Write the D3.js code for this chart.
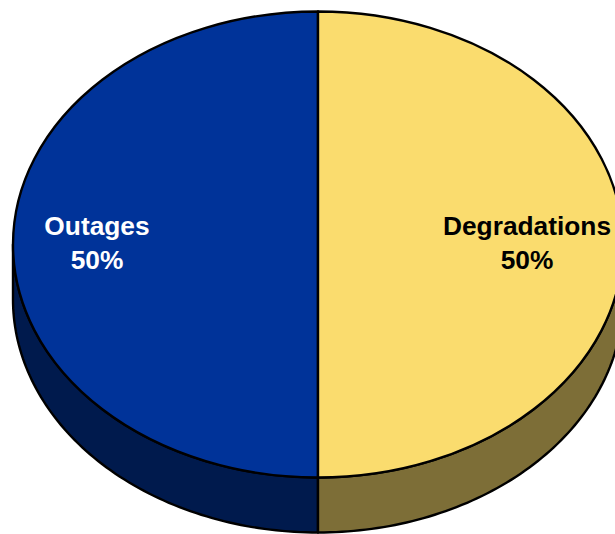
<!DOCTYPE html>
<html>
<head>
<meta charset="utf-8">
<script src="https://cdn.jsdelivr.net/npm/d3@7"></script>
<style>
  html, body { margin: 0; padding: 0; background: #fff; }
  svg { display: block; }
</style>
</head>
<body>
<svg id="chart" width="615" height="534"></svg>
<script>
const categories = ["Outages", "Degradations"];
const values = [50, 50];
const topColors = ["#003399", "#FADC6E"];
const sideColors = ["#001A4D", "#7D6E37"];
const textColors = ["#ffffff", "#000000"];

const W = 615, H = 534;
const cx = 318, cy = 244.5, rx = 305, ry = 233, depth = 55;

const svg = d3.select("#chart");
const data = categories.map((c, i) => ({ name: c, value: values[i], i }));

const pie = d3.pie().sort(null).value(d => d.value)
  .startAngle(Math.PI).endAngle(3 * Math.PI);
const arcs = pie(data);

const px = a => cx + rx * Math.sin(a);
const py = a => cy - ry * Math.cos(a);

// side walls (front half: angles in (pi/2, 3pi/2) modulo 2pi)
const sideG = svg.append("g");
arcs.forEach(d => {
  const TAU = 2 * Math.PI;
  [[Math.PI / 2, 1.5 * Math.PI], [Math.PI / 2 + TAU, 1.5 * Math.PI + TAU]].forEach(([f0, f1]) => {
    const s = Math.max(d.startAngle, f0), e = Math.min(d.endAngle, f1);
    if (e <= s) return;
    const n = 80;
    const pts = [];
    for (let k = 0; k <= n; k++) { const a = s + (e - s) * k / n; pts.push([px(a), py(a)]); }
    for (let k = n; k >= 0; k--) { const a = s + (e - s) * k / n; pts.push([px(a), py(a) + depth]); }
    sideG.append("path")
      .attr("d", d3.line()(pts) + "Z")
      .attr("fill", sideColors[d.data.i])
      .attr("stroke", "#000")
      .attr("stroke-width", 2.4)
      .attr("stroke-linejoin", "round");
  });
});

// top face
const arc = d3.arc().innerRadius(0).outerRadius(rx);
svg.append("g")
  .attr("transform", `translate(${cx},${cy}) scale(1,${ry / rx})`)
  .selectAll("path")
  .data(arcs)
  .join("path")
  .attr("d", arc)
  .attr("fill", d => topColors[d.data.i])
  .attr("stroke", "#000")
  .attr("stroke-width", 2.4)
  .attr("vector-effect", "non-scaling-stroke")
  .attr("stroke-linejoin", "round");

// labels
const labelFrac = 0.705, labelShift = -6;
const lab = svg.append("g")
  .attr("font-family", "Liberation Sans, Arial, sans-serif")
  .attr("font-weight", "bold")
  .attr("font-size", 26.3)
  .attr("text-anchor", "middle");
arcs.forEach(d => {
  const mid = (d.startAngle + d.endAngle) / 2;
  const x = cx + rx * labelFrac * Math.sin(mid) + labelShift;
  const y = cy - ry * labelFrac * Math.cos(mid);
  const pct = Math.round(100 * d.value / d3.sum(values)) + "%";
  const t = lab.append("text").attr("fill", textColors[d.data.i]);
  t.append("tspan").attr("x", x).attr("y", y - 10).text(d.data.name);
  t.append("tspan").attr("x", x).attr("y", y + 24).text(pct);
});
</script>
</body>
</html>
